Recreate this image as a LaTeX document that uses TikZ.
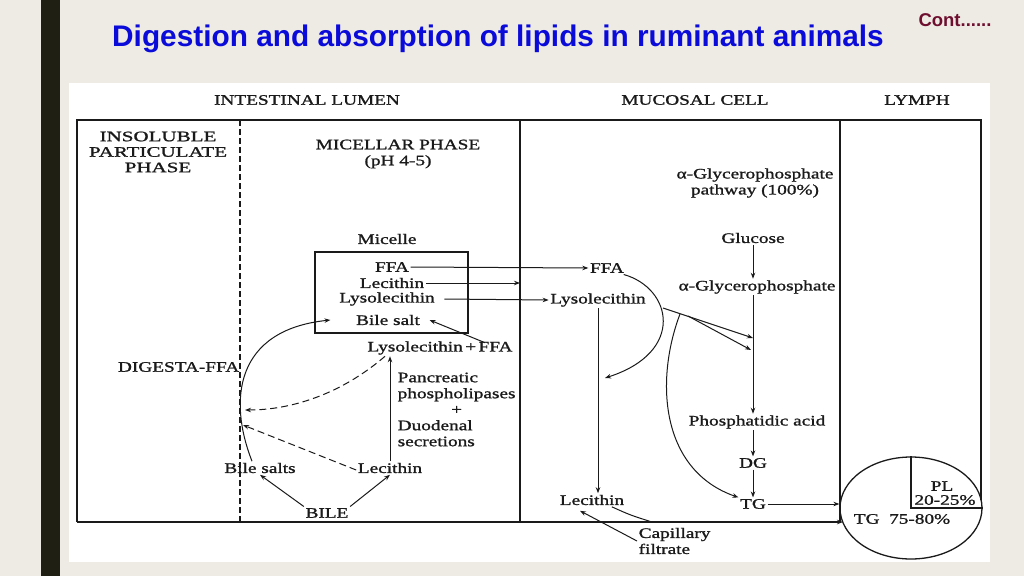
\documentclass[tikz,border=0pt]{standalone}
\usepackage{fontspec}
\setmainfont{Liberation Serif}[FakeStretch=1.33, FakeBold=1.2]
\newfontfamily\titlefont{Liberation Sans}
\usetikzlibrary{arrows.meta,shapes.geometric}
\definecolor{bg}{HTML}{EEEBE4}
\definecolor{barc}{HTML}{1F1F13}
\definecolor{titleblue}{HTML}{0B0BD9}
\definecolor{contred}{HTML}{6E0F30}
\definecolor{ink}{HTML}{1A1A1A}
\begin{document}
\begin{tikzpicture}[x=1pt,y=-1pt,
  lbl/.style={inner sep=1.5pt, font=\fontsize{14.5}{16}\selectfont, text=ink},
  framel/.style={line width=1.5pt, draw=ink},
  ln/.style={line width=1pt, draw=ink},
  arr/.style={ln, -{Stealth[length=6pt,width=4.5pt]}},
  darr/.style={arr, dash pattern=on 7pt off 4pt},
]
\useasboundingbox (0,0) rectangle (1024,576);
\fill[bg] (0,0) rectangle (1024,576);
\fill[barc] (41,0) rectangle (60,576);
\fill[white] (69,83) rectangle (990,562);

\node[font=\titlefont\bfseries\fontsize{29.8}{34}\selectfont, text=titleblue, anchor=base, inner sep=0pt] (title) at (498,46) {Digestion and absorption of lipids in ruminant animals};
\node[font=\titlefont\bfseries\fontsize{18.5}{20}\selectfont, text=contred, anchor=base, inner sep=0pt] (cont) at (955,26) {Cont......};

% frame
\coordinate (mucL) at (520,120);
\draw[framel] (77,522) -- (77,120) -- (981,120) -- (981,500);
\draw[framel] (520,120) -- (520,522);
\draw[framel] (840,120) -- (840,522);
\draw[framel, dash pattern=on 6pt off 3pt] (240,120) -- (240,522);

% headers
\node[lbl] (hlumen) at (307,100) {INTESTINAL LUMEN};
\node[lbl] (hmuc) at (695,100) {MUCOSAL CELL};
\node[lbl] (hlymph) at (917,100) {LYMPH};
\node[lbl, align=center, font=\fontsize{14.5}{15.5}\selectfont\addfontfeature{FakeStretch=1.45}] (insol) at (158,152) {INSOLUBLE\\PARTICULATE\\PHASE};
\node[lbl, align=center] (mic) at (398,154) {MICELLAR PHASE\\(pH 4-5)};
\node[lbl, align=center] (path) at (755,183) {α-Glycerophosphate\\pathway (100\%)};

% mucosal cell
\node[lbl] (gluc) at (753,238) {Glucose};
\node[lbl] (glyc) at (757,287) {α-Glycerophosphate};
\node[lbl] (phos) at (757,422) {Phosphatidic acid};
\node[lbl] (dg) at (753,463) {DG};
\node[lbl] (tg) at (753,504) {TG};
\node[lbl] (ffam) at (607,268) {FFA};
\node[lbl] (lysom) at (598,300) {Lysolecithin};
\node[lbl] (lecm) at (592,500) {Lecithin};
\node[lbl, align=left, anchor=west] (cap) at (637,541) {Capillary\\filtrate};

% micelle
\node[lbl] (micelle) at (387,239) {Micelle};
\node[draw=ink, line width=1.1pt, minimum width=153, minimum height=81, inner sep=0pt] (mbox) at (391.5,292.5) {};
\node[lbl] (ffa1) at (392,267) {FFA};
\node[lbl] (lec1) at (392,283) {Lecithin};
\node[lbl] (lyso1) at (387,299) {Lysolecithin};
\node[lbl] (bs1) at (388,320) {Bile salt};
\node[lbl] (lpf) at (440,348) {Lysolecithin\,+\,FFA};
\node[lbl, anchor=east] (dig) at (241,367) {DIGESTA-FFA};
\node[lbl, anchor=west] (panc) at (396,411) {\begin{tabular}{@{}l@{}}Pancreatic\\phospholipases\\\multicolumn{1}{@{}c@{}}{+}\\Duodenal\\secretions\end{tabular}};
\node[lbl] (bsalts) at (260,468) {Bile salts};
\node[lbl] (lecl) at (390,468) {Lecithin};
\node[lbl] (bile) at (327,513) {BILE};

% lymph
\node[draw=ink, line width=1.3pt, ellipse, minimum width=142, minimum height=102, inner sep=0pt] (lymph) at (911,508) {};
\draw[ln, line width=1.3pt] (lymph.north) -- (lymph.center) -- (lymph.east);
\node[lbl] (pl) at (942,486) {PL};
\node[lbl] (pct1) at (945,500) {20-25\%};
\node[lbl] (pct2) at (902,519) {TG\ \ 75-80\%};

% bottom line into lymph
\coordinate (botL) at (77,522);
\draw[framel, -{Stealth[length=6pt,width=4.5pt]}] (botL) -- (843,522);

% connectors mucosal
\draw[arr] (gluc.south) -- (gluc.south |- glyc.north);
\draw[arr] (glyc.south -| dg) -- (phos.north -| dg);
\draw[arr] (phos.south -| dg) -- (dg.north);
\draw[arr] (dg.south) -- (tg.north);
\draw[arr] (tg.east) -- (tg.east -| lymph.west);
\draw[arr] (lysom.south) -- (lysom.south |- lecm.north);
\coordinate (ffaend) at (605,378);
\draw[arr] ([xshift=-2pt]ffam.south east) .. controls (672,288) and (686,352) .. (ffaend);
\coordinate (br1) at (663,308);
\coordinate (br2) at (688,316);
\coordinate (br3) at (680,314);
\coordinate (g1) at (753,338);
\coordinate (g2) at (751,350);
\draw[arr] (br1) -- (g1);
\draw[arr] (br2) -- (g2);
\draw[arr] (br3) .. controls (655,380) and (660,470) .. (tg.north west);
\draw[ln] ([xshift=-14pt]lecm.south east) .. controls (630,515) .. (652,522);
\draw[arr] (cap.west) -- ([xshift=-12pt,yshift=-4pt]lecm.south);

% connectors lumen
\draw[arr] (ffa1.east) -- (ffam.west);
\draw[arr] (lec1.east) -- (lec1.east -| mucL);
\draw[arr] ([xshift=8pt]lyso1.east) -- (lysom.west);
\draw[arr] ([xshift=45pt,yshift=-3pt]lpf.north) -- ([xshift=8pt]bs1.east);
\draw[arr] ([xshift=-8pt]bsalts.north) .. controls (228,400) and (235,330) .. ([xshift=-24pt]bs1.west);
\coordinate (d1) at (245,410);
\coordinate (d2) at (243,425);
\draw[darr] ([xshift=-55pt]lpf.south) .. controls (340,395) and (290,410) .. (d1);
\draw[darr] ([yshift=-2pt]lecl.west) -- (d2);
\draw[arr] (lecl.north) -- (lecl.north |- lpf.south);
\draw[arr] (bile.north west) -- (bsalts.south);
\draw[arr] (bile.north east) -- (lecl.south);
\end{tikzpicture}
\end{document}
